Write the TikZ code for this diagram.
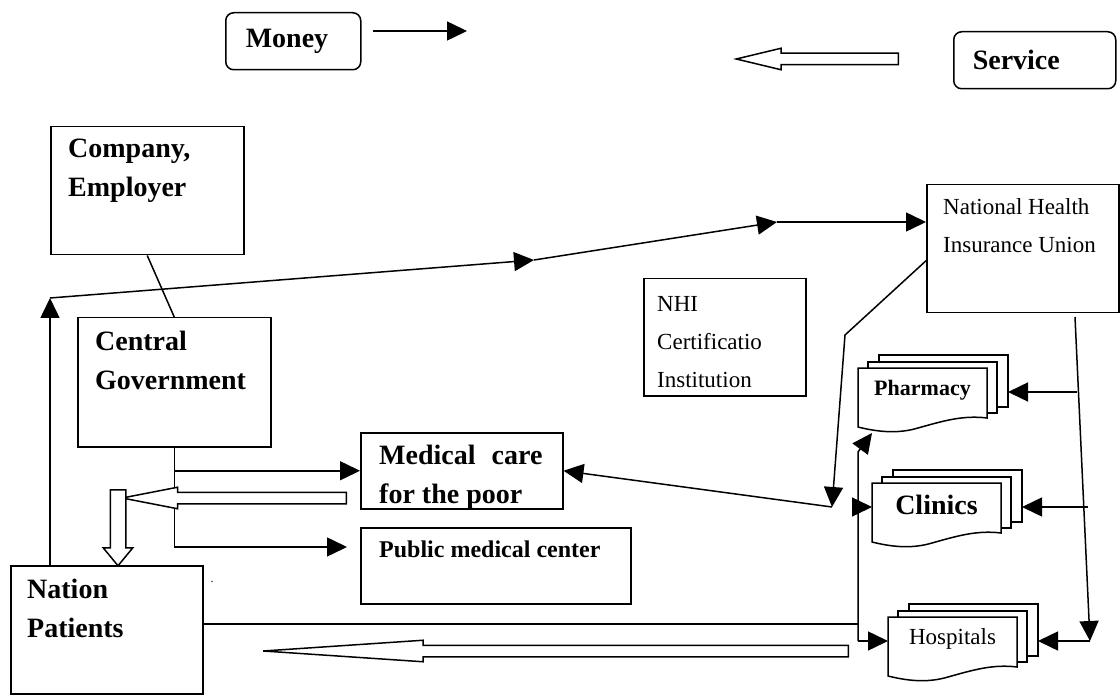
\documentclass[tikz,border=0pt]{standalone}
\usepackage{fontspec}
\setmainfont{Liberation Serif}
\usetikzlibrary{arrows.meta, calc, shapes.arrows}

\newcommand{\labelbig}{\fontsize{28}{39}\selectfont\bfseries}
\newcommand{\labelmid}{\fontsize{22}{37}\selectfont\bfseries}
\newcommand{\labelpub}{\fontsize{24}{37}\selectfont\bfseries}
\newcommand{\labelreg}{\fontsize{23}{38}\selectfont}

\tikzset{
  box/.style={draw, line width=1.5pt, inner sep=0pt, anchor=north west},
  tag/.style={draw, line width=1.5pt, rounded corners=8pt, anchor=north west, inner xsep=20pt, inner ysep=0pt, minimum height=57pt, align=left, font=\labelbig},
  boxtext/.style={inner sep=0pt, anchor=north west, align=left},
  sheet/.style={draw, line width=1.5pt, fill=white},
  link/.style={line width=1.5pt},
  flow/.style={link, -{Triangle[length=20pt, width=19pt]}},
  hollow/.style={draw, line width=1.5pt, fill=white, single arrow, anchor=tail, inner sep=5pt, minimum width=20pt, single arrow head extend=5pt}
}

\begin{document}
\begin{tikzpicture}[x=1pt, y=-1pt]
  \useasboundingbox (0,0) rectangle (1120,695);

  % legend
  \node[tag, text width=95pt] (money) at (225,12) {Money};
  \coordinate (money-a) at (373,31);
  \coordinate (money-b) at (467,31);
  \draw[flow] (money-a) -- (money-b);
  \node[tag, text width=124pt, inner xsep=19pt] (service) at (953,31) {Service};
  \node[hollow, rotate=180, minimum height=162pt, single arrow tip angle=27] (servicearrow) at (899,59) {};

  % boxes
  \node[box, minimum width=193pt, minimum height=128pt] (company) at (50,126) {};
  \node[boxtext, font=\labelbig] (company-txt) at (68,139) {Company,\\Employer};
  \node[box, minimum width=193pt, minimum height=129pt] (central) at (77,317) {};
  \node[boxtext, font=\labelbig] (central-txt) at (95,331) {Central\\Government};
  \node[box, minimum width=192pt, minimum height=128pt] (nation) at (10,565) {};
  \node[boxtext, font=\labelbig] (nation-txt) at (27,579) {Nation\\Patients};
  \node[box, minimum width=192pt, minimum height=128pt] (nhiu) at (926,184) {};
  \node[boxtext, font=\labelreg] (nhiu-txt) at (943,198) {National Health\\Insurance Union};
  \node[box, minimum width=162pt, minimum height=117pt] (nhi) at (643,278) {};
  \node[boxtext, font=\labelreg] (nhi-txt) at (657,296) {NHI\\Certificatio\\Institution};
  \node[box, minimum width=202pt, minimum height=76pt] (poor) at (360,432) {};
  \node[boxtext, font=\labelbig] (poor-txt) at (379,445) {Medical\hspace{16pt}care\\for the poor};
  \node[box, minimum width=270pt, minimum height=76pt] (public) at (360,527) {};
  \node[boxtext, font=\labelpub] (public-txt) at (379,541) {Public medical center};

  % providers, drawn as stacks of sheets
  \foreach \nm/\lx/\ty/\fnt/\txt in {pharm/858/368/\labelmid/Pharmacy, clin/872/483/\labelbig/Clinics, hosp/888/617/\labelreg/Hospitals} {
    \draw[sheet] ({\lx+21},{\ty-13}) rectangle ({\lx+150},{\ty+39});
    \draw[sheet] ({\lx+10},{\ty-6}) rectangle ({\lx+139},{\ty+45});
    \draw[sheet] (\lx,\ty) -- ({\lx+129},\ty) -- ({\lx+129},{\ty+50})
      .. controls ({\lx+105},{\ty+47}) and ({\lx+85},{\ty+53}) .. ({\lx+60},{\ty+60})
      .. controls ({\lx+40},{\ty+66}) and ({\lx+20},{\ty+64}) .. (\lx,{\ty+59}) -- cycle;
    \node[inner sep=0pt, font=\fnt] (\nm) at ({\lx+64.5},{\ty+22}) {\txt};
    \coordinate (\nm-l) at (\lx,{\ty+24});
    \coordinate (\nm-r) at ({\lx+150},{\ty+24});
    \coordinate (\nm-b) at ({\lx+14},{\ty+65});
  }

  % money flows
  \draw[link] (company.south) -- (central.north);
  \coordinate (loopstart) at (50,298);
  \coordinate (mid1) at (534,260);
  \coordinate (mid2) at (777,222);
  \draw[flow] (nation.north -| loopstart) -- (loopstart);
  \draw[flow] (loopstart) -- (mid1);
  \draw[flow] (mid1) -- (mid2);
  \draw[flow] (mid2) -- (mid2 -| nhiu.west);

  \coordinate (bend) at (845,335);
  \coordinate (junction) at (832,507);
  \draw[flow] ([yshift=-12pt]nhiu.west) -- (bend) -- (junction);
  \draw[flow] (junction) -- (poor.east);

  \coordinate (pubtip) at (347,547);
  \draw[flow] (central.south) |- (poor.west);
  \draw[flow] (central.south) |- (pubtip);

  \coordinate (spine-bottom) at (858,641);
  \coordinate (spine-top) at (858,452);
  \draw[flow] (spine-bottom) -- (spine-top) -- (pharm-b);
  \draw[flow] (spine-bottom) -- (hosp-l);
  \draw[flow] (spine-top |- clin-l) -- (clin-l);
  \coordinate (nation-out) at ([yshift=6pt]nation.east);
  \draw[link] (nation-out) -- (nation-out -| spine-bottom);

  \coordinate (drop-top) at (1075,317);
  \coordinate (drop-end) at (1090,641);
  \coordinate (pharm-feed) at (1077,392);
  \coordinate (clin-feed) at (1088,507);
  \draw[flow] (drop-top) -- (drop-end);
  \draw[flow] (drop-end) -- (hosp-r);
  \draw[flow] (pharm-feed) -- (pharm-r);
  \draw[flow] (clin-feed) -- (clin-r);

  % service flows
  \node[hollow, rotate=180, minimum height=224pt, single arrow tip angle=22] (backflow) at (347,498) {};
  \node[hollow, rotate=-90, minimum height=76pt, inner sep=7pt, minimum width=28pt, single arrow head extend=7pt, single arrow tip angle=79] (downflow) at (118,489) {};
  \node[hollow, rotate=180, minimum height=585pt, single arrow tip angle=7.7] (returnflow) at (849,651) {};

  \node[inner sep=0pt, font=\fontsize{12}{12}\selectfont] (dot) at (212,582) {.};
\end{tikzpicture}
\end{document}
